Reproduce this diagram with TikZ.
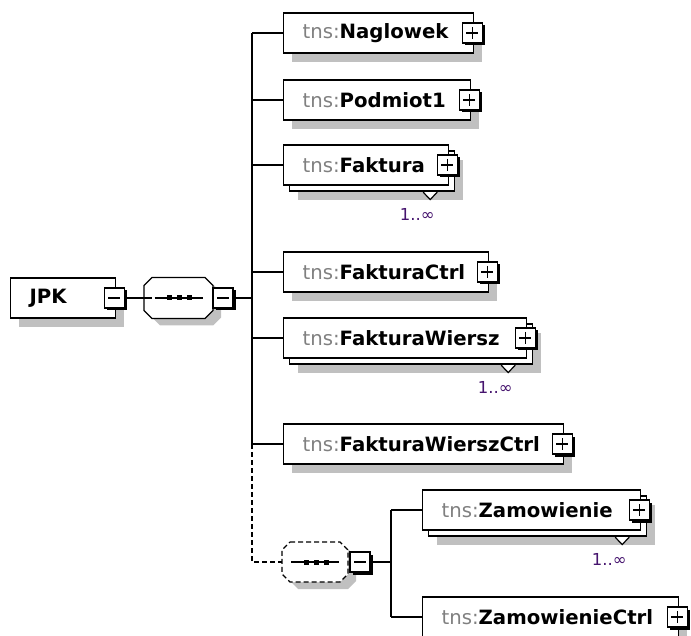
\documentclass[tikz,border=0pt]{standalone}
\usepackage{fontspec}
\setmainfont{DejaVu Sans}
\usetikzlibrary{shadows}
\definecolor{tnsgray}{RGB}{128,128,128}
\definecolor{shadowgray}{RGB}{192,192,192}
\definecolor{multcolor}{RGB}{70,20,110}
\newcommand{\tns}[1]{\textcolor{tnsgray}{tns:}\textbf{#1}}
\newcommand{\octpath}[1]{([xshift=8pt]#1.north west) -- ([xshift=-8pt]#1.north east) -- ([yshift=-8pt]#1.north east) -- ([yshift=8pt]#1.south east) -- ([xshift=-8pt]#1.south east) -- ([xshift=8pt]#1.south west) -- ([yshift=8pt]#1.south west) -- ([yshift=-8pt]#1.north west) -- cycle}
\tikzset{
  box/.style={draw, fill=white, anchor=west, minimum height=40pt, inner xsep=19pt, align=left, font=\fontsize{19.7pt}{22pt}\selectfont},
  elem/.style={box, drop shadow={shadow xshift=8pt, shadow yshift=-9pt, fill=shadowgray, opacity=1}},
  multielem/.style={box, drop shadow={shadow xshift=14pt, shadow yshift=-15pt, fill=shadowgray, opacity=1}, copy shadow={shadow xshift=6pt, shadow yshift=-6pt, draw=black, fill=white}},
  btn/.style={draw, fill=white, minimum size=20pt, inner sep=0pt, drop shadow={shadow xshift=2.5pt, shadow yshift=-2.5pt, fill=black, opacity=1}},
  minusbtn/.style={btn, path picture={\draw ([xshift=4pt]path picture bounding box.west) -- ([xshift=-4pt]path picture bounding box.east);}},
  plusbtn/.style={btn, path picture={\draw ([xshift=4pt]path picture bounding box.west) -- ([xshift=-4pt]path picture bounding box.east); \draw ([yshift=-4pt]path picture bounding box.north) -- ([yshift=4pt]path picture bounding box.south);}},
  seq/.style={inner sep=0pt, outer sep=0pt, minimum width=69pt, minimum height=41pt},
  octshadow/.style={fill=shadowgray, draw=none, transform canvas={shift={(8pt,-7pt)}}},
  octline/.style={draw, fill=white},
  mult/.style={text=multcolor, font=\fontsize{16.5pt}{18pt}\selectfont, inner sep=0pt}
}
\begin{document}
\begin{tikzpicture}[x=1pt, y=-1pt, line width=1.2pt]
  \clip (0,0) rectangle (691,636);
  \coordinate (trunk) at (252,298);
  \coordinate (subtrunk) at (391,562);
  \node[elem, text width=67pt] (jpk) at (10,298) {\textbf{JPK}};
  \node[minusbtn] (jpk-btn) at ([xshift=-2pt]jpk.east) {};
  \node[seq] (seq) at (178.5,298) {};
  \path[octshadow] \octpath{seq};
  \path[octline] \octpath{seq};
  \node[minusbtn] (seq-btn) at ([xshift=10pt]seq.east) {};
  \node[elem, text width=152pt] (naglowek) at (283,33) {\tns{Naglowek}};
  \node[plusbtn] (naglowek-btn) at ([xshift=-2pt]naglowek.east) {};
  \node[elem, text width=149pt] (podmiot) at (283,100) {\tns{Podmiot1}};
  \node[plusbtn] (podmiot-btn) at ([xshift=-2pt]podmiot.east) {};
  \node[multielem, text width=127pt] (faktura) at (283,165) {\tns{Faktura}};
  \node[plusbtn] (faktura-btn) at ([xshift=-2pt]faktura.east) {};
  \node[elem, text width=167pt] (fctrl) at (283,272) {\tns{FakturaCtrl}};
  \node[plusbtn] (fctrl-btn) at ([xshift=-2pt]fctrl.east) {};
  \node[multielem, text width=205pt] (fwiersz) at (283,338) {\tns{FakturaWiersz}};
  \node[plusbtn] (fwiersz-btn) at ([xshift=-2pt]fwiersz.east) {};
  \node[elem, text width=242pt] (fwctrl) at (283,444) {\tns{FakturaWierszCtrl}};
  \node[plusbtn] (fwctrl-btn) at ([xshift=-2pt]fwctrl.east) {};
  \node[seq, minimum width=66pt, minimum height=40pt] (subseq) at (315,562) {};
  \path[octshadow] \octpath{subseq};
  \path[octline, dash pattern=on 5pt off 3pt] \octpath{subseq};
  \node[minusbtn] (subseq-btn) at ([xshift=12pt]subseq.east) {};
  \foreach \s in {seq, subseq} {
    \draw ([xshift=-24pt]\s.center) -- ([xshift=24pt]\s.center);
    \foreach \dx in {-9,1,11}
      \fill ([xshift=\dx pt]\s.center) +(-2.5pt,-2.5pt) rectangle +(2.5pt,2.5pt);
  }
  \node[multielem, text width=180pt] (zamowienie) at (422,510) {\tns{Zamowienie}};
  \node[plusbtn] (zamowienie-btn) at ([xshift=-2pt]zamowienie.east) {};
  \node[elem, text width=218pt] (zctrl) at (422,617) {\tns{ZamowienieCtrl}};
  \node[plusbtn] (zctrl-btn) at ([xshift=-2pt]zctrl.east) {};
  \foreach \n in {faktura, fwiersz, zamowienie} {
    \draw[fill=white] ([xshift=-26pt,yshift=-6.6pt]\n.south east) -- ([xshift=-19pt,yshift=-14pt]\n.south east) -- ([xshift=-12pt,yshift=-6.6pt]\n.south east);
    \node[mult] (\n-mult) at ([xshift=-32pt,yshift=-29pt]\n.south east) {1..∞};
  }
  \draw (jpk-btn.east) -- ([xshift=8pt]seq.west);
  \draw (seq-btn.east) -- (seq-btn.east -| trunk);
  \draw (trunk |- naglowek.west) -- (trunk |- fwctrl.west);
  \foreach \n in {naglowek, podmiot, faktura, fctrl, fwiersz, fwctrl}
    \draw (trunk |- \n.west) -- (\n.west);
  \draw[dash pattern=on 5pt off 3pt] (trunk |- fwctrl.west) |- (subseq.west);
  \draw (subseq-btn.east) -- (subseq-btn.east -| subtrunk);
  \draw (subtrunk |- zamowienie.west) -- (subtrunk |- zctrl.west);
  \foreach \n in {zamowienie, zctrl}
    \draw (subtrunk |- \n.west) -- (\n.west);
\end{tikzpicture}
\end{document}
